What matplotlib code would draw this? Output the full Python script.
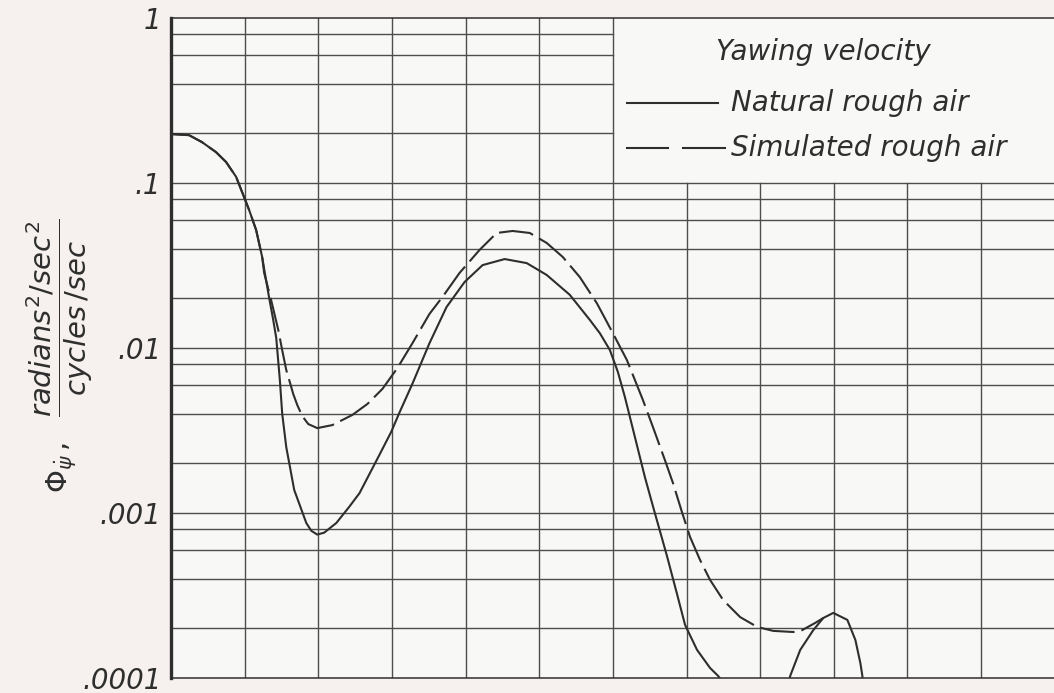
import matplotlib
matplotlib.use('Agg')
import matplotlib.pyplot as plt
from matplotlib.lines import Line2D

# ---------------- data ----------------
natural_x = [0.0, 0.245, 0.42, 0.61, 0.748, 0.884, 0.966, 1.061, 1.156, 1.238,
             1.279, 1.333, 1.388, 1.429, 1.478, 1.51, 1.565, 1.673, 1.837, 1.905,
             1.986, 2.08, 2.245, 2.42, 2.56, 2.83, 2.99, 3.10, 3.28, 3.51,
             3.741, 3.986, 4.231, 4.531, 4.83, 5.102, 5.415, 5.687, 5.823, 5.959,
             6.068, 6.163, 6.245, 6.34, 6.435, 6.544, 6.735, 6.871, 6.98, 7.143,
             7.32, 7.429, 7.51]
natural_y = [0.198, 0.195, 0.177, 0.154, 0.134, 0.109, 0.088, 0.0686, 0.0519, 0.0356,
             0.0277, 0.0201, 0.0148, 0.0115, 0.0064, 0.0040, 0.00251, 0.00138, 0.00087, 0.00078,
             0.00074, 0.00076, 0.00087, 0.00109, 0.00132, 0.00225, 0.0031, 0.00404, 0.0061, 0.0107,
             0.0177, 0.0251, 0.0318, 0.0346, 0.0327, 0.0277, 0.0210, 0.0148, 0.0123, 0.00973,
             0.00716, 0.00505, 0.00361, 0.00244, 0.00165, 0.00110, 0.000548, 0.000323, 0.00021, 0.000148,
             0.000115, 0.000103, 0.000092]

bump_x = [8.37, 8.408, 8.544, 8.721, 8.857, 8.993, 9.184, 9.293, 9.361, 9.388, 9.40]
bump_y = [0.000085, 0.000103, 0.000148, 0.000195, 0.000231, 0.000248, 0.000225,
          0.000170, 0.000123, 0.000103, 0.000085]

simulated_x = [0.0, 0.245, 0.42, 0.61, 0.748, 0.884, 0.966, 1.061, 1.156, 1.238,
               1.265, 1.36, 1.456, 1.51, 1.565, 1.605, 1.66, 1.714, 1.782, 1.864,
               1.986, 2.19, 2.463, 2.667, 2.871, 3.075, 3.279, 3.51, 3.687, 3.918,
               4.19, 4.422, 4.639, 4.871, 5.102, 5.32, 5.551, 5.782, 6.0, 6.19,
               6.408, 6.544, 6.707, 6.816, 6.939, 7.048, 7.184, 7.32, 7.497, 7.728,
               7.959, 8.177, 8.449, 8.57, 8.75, 8.857]
simulated_y = [0.198, 0.195, 0.177, 0.154, 0.134, 0.109, 0.088, 0.0686, 0.0519, 0.0356,
               0.0285, 0.0195, 0.0129, 0.0097, 0.00736, 0.0064, 0.00526, 0.00452, 0.00387, 0.00346,
               0.00327, 0.00341, 0.00393, 0.00458, 0.00565, 0.00757, 0.0107, 0.0161, 0.0204, 0.0285,
               0.0393, 0.0498, 0.0512, 0.0498, 0.0433, 0.0356, 0.0269, 0.0187, 0.0123, 0.00846,
               0.00484, 0.00332, 0.00209, 0.00152, 0.00101, 0.000716, 0.000519, 0.000393, 0.000297, 0.000234,
               0.000204, 0.000193, 0.000190, 0.000195, 0.000216, 0.000231]

ytick_values = [1e-4, 1e-3, 1e-2, 1e-1, 1]
ytick_labels = ['.0001', '.001', '.01', '.1', '1']
legend_title = 'Yawing velocity'
series_names = ['Natural rough air', 'Simulated rough air']

# ---------------- style ----------------
W, H = 1054, 693
INK = '#2e2e2e'
GRID = '#4d4d4d'
plt.rcParams['font.family'] = ['DejaVu Sans']
plt.rcParams['mathtext.fontset'] = 'dejavusans'
plt.rcParams['lines.scale_dashes'] = False

fig = plt.figure(figsize=(W / 100, H / 100), dpi=100)
fig.patch.set_facecolor('#f6f0ee')

def fx(px):
    return px / W

def fy(py):
    return 1 - py / H

ax = fig.add_axes([fx(171), fy(678), fx(W) - fx(171), fy(18) - fy(678)])
ax.set_facecolor('#f8f8f6')
ax.set_yscale('log')
ax.set_xlim(0, 11.99)
ax.set_ylim(1e-4, 1)

# grid
for k in range(-4, 0):
    for m in (1, 2, 4, 6, 8):
        v = m * 10.0 ** k
        if v <= 1e-4:
            continue
        if k == -1 and m > 1:
            ax.plot([0, 6], [v, v], color=GRID, lw=1.0, zorder=1)
        else:
            ax.axhline(v, color=GRID, lw=1.0, zorder=1)
for xv in range(1, 12):
    if xv <= 6:
        ax.axvline(xv, color=GRID, lw=1.0, zorder=1)
    else:
        ax.plot([xv, xv], [1e-4, 0.1], color=GRID, lw=1.0, zorder=1)

# curves
ax.plot(natural_x, natural_y, color=INK, lw=1.5, zorder=3, solid_joinstyle='round')
ax.plot(bump_x, bump_y, color=INK, lw=1.5, zorder=3, solid_joinstyle='round')
ln, = ax.plot(simulated_x, simulated_y, color=INK, lw=1.5, zorder=3)
ln.set_dashes([25, 5])

# spines / ticks
ax.spines['right'].set_visible(False)
ax.spines['left'].set_linewidth(2.4)
ax.spines['top'].set_linewidth(1.1)
ax.spines['bottom'].set_linewidth(1.1)
for s in ax.spines.values():
    s.set_color(INK)
ax.set_xticks([])
ax.set_yticks(ytick_values)
ax.set_yticklabels(ytick_labels, fontsize=20, fontstyle='italic', color=INK)
ax.minorticks_off()
ax.tick_params(axis='y', length=0, pad=7)

# y label
fig.text(fx(60), fy(356),
         r'$\mathit{Φ}_{\dot{\psi}}\,,\ \ \dfrac{\mathit{radians}^{2}/\mathit{sec}^{2}}{\mathit{cycles}\,/\mathit{sec}}$',
         rotation=90, ha='center', va='center', fontsize=21, color=INK)

# legend (drawn as in the original figure)
fig.text(fx(716), fy(52), legend_title, fontsize=20, fontstyle='italic',
         ha='left', va='center', color=INK)
fig.text(fx(731), fy(103), series_names[0], fontsize=20, fontstyle='italic',
         ha='left', va='center', color=INK)
fig.text(fx(731), fy(148), series_names[1], fontsize=20, fontstyle='italic',
         ha='left', va='center', color=INK)
fig.add_artist(Line2D([fx(627), fx(718)], [fy(103), fy(103)], color=INK, lw=1.5))
fig.add_artist(Line2D([fx(627), fx(668)], [fy(148), fy(148)], color=INK, lw=1.5))
fig.add_artist(Line2D([fx(683), fx(725)], [fy(148), fy(148)], color=INK, lw=1.5))

fig.savefig('out.png', dpi=100, facecolor=fig.get_facecolor())
